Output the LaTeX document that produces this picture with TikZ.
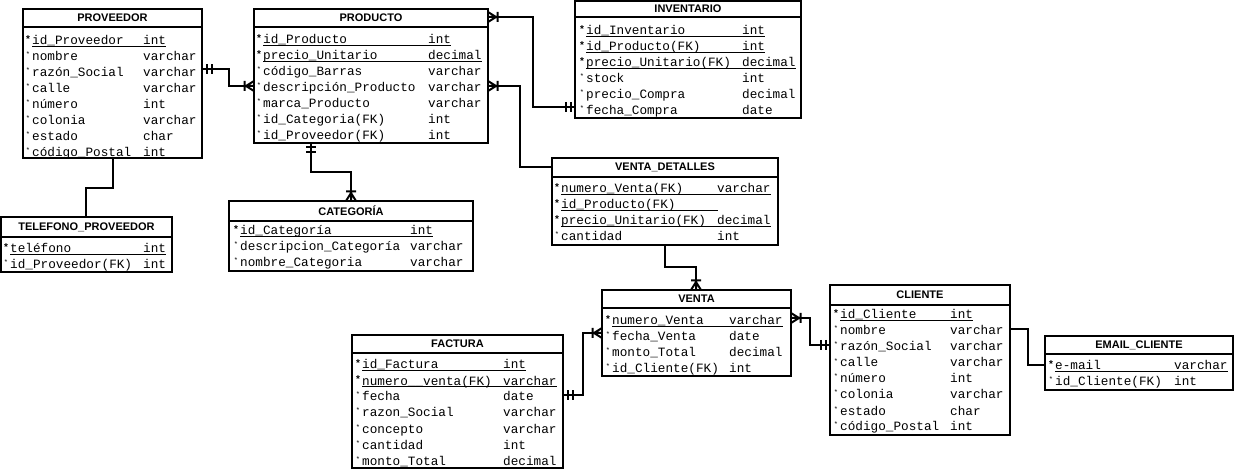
\documentclass[tikz,border=0pt]{standalone}
\usepackage{fontspec}
\setmainfont{Liberation Sans}
\newfontfamily\erdmono{Liberation Mono}
\usetikzlibrary{calc}
\tikzset{
 tbl/.style={draw, line width=2pt, rectangle, inner sep=0pt, outer sep=0pt, fill=white},
 tblline/.style={line width=2pt},
 hdr/.style={font=\fontsize{11}{11}\selectfont\bfseries, inner sep=0pt},
 fld/.style={font=\fontsize{12.7}{12.7}\selectfont\erdmono, anchor=base west, inner sep=0pt},
 pkmk/.style={font=\fontsize{10}{10}\selectfont\bfseries, anchor=base, inner sep=0pt},
 fmk/.style={font=\fontsize{7}{7}\selectfont, anchor=base, inner sep=0pt},
 uline/.style={line width=1pt},
 conn/.style={line width=2pt},
 pics/crow/.style={code={\draw[conn] (0,5)--(8,0)--(0,-5) (0,0)--(8,0) (9.5,5)--(9.5,-5);}},
 pics/bars/.style={code={\draw[conn] (4.5,5)--(4.5,-5) (9.5,5)--(9.5,-5);}},
}
\newcommand\etable[7]{%
 \pgfmathsetmacro\erdtw{#4-#2}\pgfmathsetmacro\erdth{#5-#3}%
 \node[tbl, minimum width=\erdtw pt, minimum height=\erdth pt, anchor=north west] (#1) at (#2,#3) {};
 \draw[tblline] (#2,#6) -- (#4,#6);
 \node[hdr] (#1-title) at ({(#2+#4)/2},{(#3+#6)/2}) {#7};}
\newcommand\frow[7]{%
 \node[fmk] (#1-#2m) at (#3-4,#5-4) {*};
 \node[fld] (#1-#2n) at (#3,#5) {#6};
 \node[fld] (#1-#2t) at (#4,#5) {#7};}
\newcommand\pkrow[7]{%
 \node[pkmk] (#1-#2m) at (#3-4,#5-2) {*};
 \node[fld] (#1-#2n) at (#3,#5) {#6};
 \node[fld] (#1-#2t) at (#4,#5) {#7};
 \draw[uline] ([yshift=-2pt]#1-#2n.base west) -- ([yshift=-2pt]#1-#2t.base east);}
\begin{document}
\begin{tikzpicture}[x=1pt,y=-1pt]
\useasboundingbox (0,0) rectangle (1235,470);
% PROVEEDOR
\etable{PROVEEDOR}{23}{9}{202}{158}{27}{PROVEEDOR}
\pkrow{PROVEEDOR}{1}{32}{143}{45}{id\_Proveedor}{int}
\frow{PROVEEDOR}{2}{32}{143}{61}{nombre}{varchar}
\frow{PROVEEDOR}{3}{32}{143}{77}{razón\_Social}{varchar}
\frow{PROVEEDOR}{4}{32}{143}{93}{calle}{varchar}
\frow{PROVEEDOR}{5}{32}{143}{109}{número}{int}
\frow{PROVEEDOR}{6}{32}{143}{125}{colonia}{varchar}
\frow{PROVEEDOR}{7}{32}{143}{141}{estado}{char}
\frow{PROVEEDOR}{8}{32}{143}{157}{código\_Postal}{int}
% PRODUCTO
\etable{PRODUCTO}{254}{9}{488}{143}{27}{PRODUCTO}
\pkrow{PRODUCTO}{1}{263}{428}{44}{id\_Producto}{int}
\pkrow{PRODUCTO}{2}{263}{428}{60}{precio\_Unitario}{decimal}
\frow{PRODUCTO}{3}{263}{428}{76}{código\_Barras}{varchar}
\frow{PRODUCTO}{4}{263}{428}{92}{descripción\_Producto}{varchar}
\frow{PRODUCTO}{5}{263}{428}{108}{marca\_Producto}{varchar}
\frow{PRODUCTO}{6}{263}{428}{124}{id\_Categoria(FK)}{int}
\frow{PRODUCTO}{7}{263}{428}{140}{id\_Proveedor(FK)}{int}
% INVENTARIO
\etable{INVENTARIO}{575}{1}{801}{118}{17}{INVENTARIO}
\pkrow{INVENTARIO}{1}{586}{742}{35}{id\_Inventario}{int}
\pkrow{INVENTARIO}{2}{586}{742}{51}{id\_Producto(FK)}{int}
\pkrow{INVENTARIO}{3}{586}{742}{67}{precio\_Unitario(FK)}{decimal}
\frow{INVENTARIO}{4}{586}{742}{83}{stock}{int}
\frow{INVENTARIO}{5}{586}{742}{99}{precio\_Compra}{decimal}
\frow{INVENTARIO}{6}{586}{742}{115}{fecha\_Compra}{date}
% VENTA_DETALLES
\etable{VD}{552}{158}{778}{245}{177}{VENTA\_DETALLES}
\pkrow{VD}{1}{561}{717}{193}{numero\_Venta(FK)}{varchar}
\pkrow{VD}{2}{561}{717}{209}{id\_Producto(FK)}{}
\pkrow{VD}{3}{561}{717}{225}{precio\_Unitario(FK)}{decimal}
\frow{VD}{4}{561}{717}{241}{cantidad}{int}
% TELEFONO_PROVEEDOR
\etable{TEL}{1}{217}{172}{272}{237}{TELEFONO\_PROVEEDOR}
\pkrow{TEL}{1}{10}{143}{253}{teléfono}{int}
\frow{TEL}{2}{10}{143}{269}{id\_Proveedor(FK)}{int}
% CATEGORIA
\etable{CAT}{229}{201}{473}{271}{221}{CATEGORÍA}
\pkrow{CAT}{1}{240}{410}{235}{id\_Categoría}{int}
\frow{CAT}{2}{240}{410}{251}{descripcion\_Categoría}{varchar}
\frow{CAT}{3}{240}{410}{267}{nombre\_Categoria}{varchar}
% VENTA
\etable{VENTA}{602}{290}{791}{376}{308}{VENTA}
\pkrow{VENTA}{1}{612}{729}{325}{numero\_Venta}{varchar}
\frow{VENTA}{2}{612}{729}{341}{fecha\_Venta}{date}
\frow{VENTA}{3}{612}{729}{357}{monto\_Total}{decimal}
\frow{VENTA}{4}{612}{729}{373}{id\_Cliente(FK)}{int}
% FACTURA
\etable{FACTURA}{352}{335}{563}{468}{353}{FACTURA}
\pkrow{FACTURA}{1}{362}{503}{369}{id\_Factura}{int}
\pkrow{FACTURA}{2}{362}{503}{385}{numero\_\_venta(FK)}{varchar}
\frow{FACTURA}{3}{362}{503}{401}{fecha}{date}
\frow{FACTURA}{4}{362}{503}{417}{razon\_Social}{varchar}
\frow{FACTURA}{5}{362}{503}{433}{concepto}{varchar}
\frow{FACTURA}{6}{362}{503}{449}{cantidad}{int}
\frow{FACTURA}{7}{362}{503}{465}{monto\_Total}{decimal}
% CLIENTE
\etable{CLIENTE}{830}{285}{1010}{435}{305}{CLIENTE}
\pkrow{CLIENTE}{1}{840}{950}{319}{id\_Cliente}{int}
\frow{CLIENTE}{2}{840}{950}{335}{nombre}{varchar}
\frow{CLIENTE}{3}{840}{950}{351}{razón\_Social}{varchar}
\frow{CLIENTE}{4}{840}{950}{367}{calle}{varchar}
\frow{CLIENTE}{5}{840}{950}{383}{número}{int}
\frow{CLIENTE}{6}{840}{950}{399}{colonia}{varchar}
\frow{CLIENTE}{7}{840}{950}{415}{estado}{char}
\frow{CLIENTE}{8}{840}{950}{431}{código\_Postal}{int}
% EMAIL_CLIENTE
\etable{EMAIL}{1045}{336}{1233}{390}{354}{EMAIL\_CLIENTE}
\pkrow{EMAIL}{1}{1055}{1174}{370}{e-mail}{varchar}
\frow{EMAIL}{2}{1055}{1174}{386}{id\_Cliente(FK)}{int}
% connectors
\draw[conn] ([yshift=-60pt]PROVEEDOR.north east) -- ++(27,0) |- ([yshift=-77pt]PRODUCTO.north west);
\pic at ([yshift=-60pt]PROVEEDOR.north east) {bars};
\pic[rotate=180] at ([yshift=-77pt]PRODUCTO.north west) {crow};
\draw[conn] ([yshift=-8pt]PRODUCTO.north east) -- ++(45,0) |- ([yshift=-106pt]INVENTARIO.north west);
\pic at ([yshift=-8pt]PRODUCTO.north east) {crow};
\pic[rotate=180] at ([yshift=-106pt]INVENTARIO.north west) {bars};
\draw[conn] ([yshift=-77pt]PRODUCTO.north east) -- ++(32,0) |- ([yshift=-9pt]VD.north west);
\pic at ([yshift=-77pt]PRODUCTO.north east) {crow};
\draw[conn] ([xshift=57pt]PRODUCTO.south west) -- ++(0,29) -| ([xshift=122pt]CAT.north west);
\pic[rotate=-90] at ([xshift=57pt]PRODUCTO.south west) {bars};
\pic[rotate=90] at ([xshift=122pt]CAT.north west) {crow};
\draw[conn] ([xshift=90pt]PROVEEDOR.south west) -- ++(0,30) -| ([xshift=85pt]TEL.north west);
\draw[conn] ([xshift=113pt]VD.south west) -- ++(0,22) -| ([xshift=94pt]VENTA.north west);
\pic[rotate=90] at ([xshift=94pt]VENTA.north west) {crow};
\draw[conn] ([yshift=-60pt]FACTURA.north east) -- ++(20,0) |- ([yshift=-43pt]VENTA.north west);
\pic at ([yshift=-60pt]FACTURA.north east) {bars};
\pic[rotate=180] at ([yshift=-43pt]VENTA.north west) {crow};
\draw[conn] ([yshift=-28pt]VENTA.north east) -- ++(19,0) |- ([yshift=-60pt]CLIENTE.north west);
\pic at ([yshift=-28pt]VENTA.north east) {crow};
\pic[rotate=180] at ([yshift=-60pt]CLIENTE.north west) {bars};
\draw[conn] ([yshift=-44pt]CLIENTE.north east) -- ++(18,0) |- ([yshift=-29pt]EMAIL.north west);
\end{tikzpicture}
\end{document}
